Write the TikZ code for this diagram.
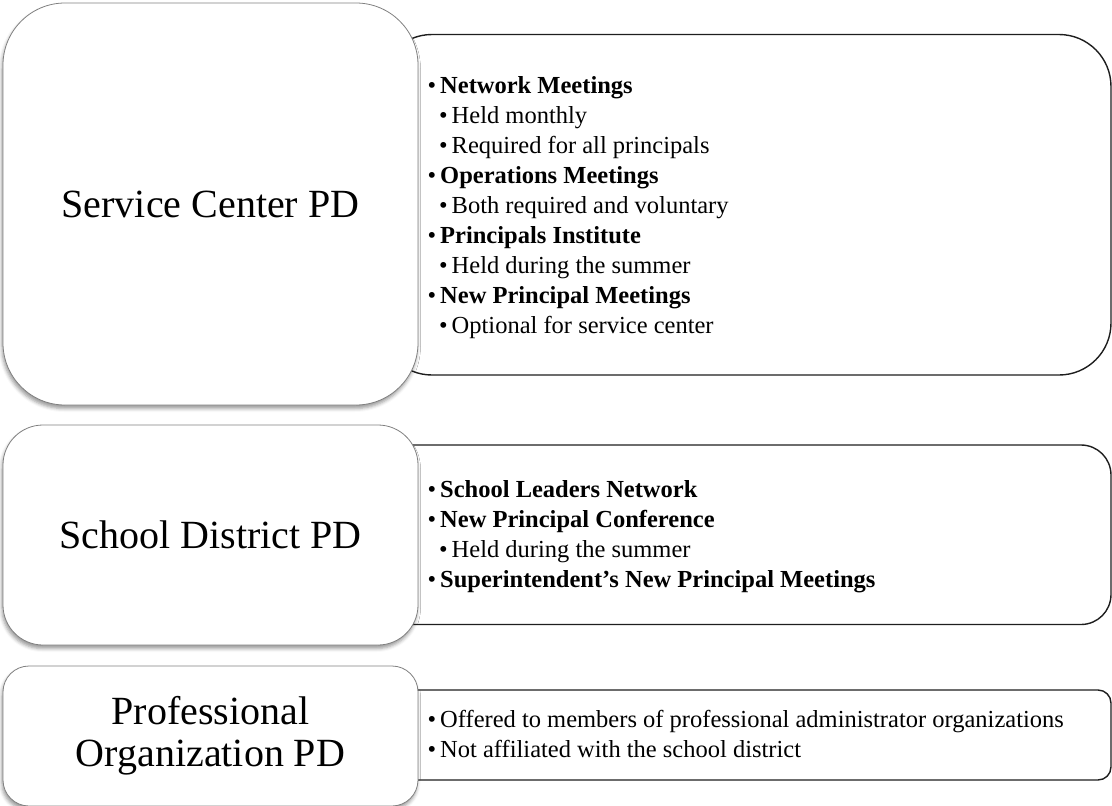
\documentclass[tikz,border=0pt]{standalone}
\usepackage{fontspec}
\setmainfont{Liberation Serif}
\usetikzlibrary{shadows.blur}
\definecolor{tierline}{RGB}{128,128,128}
\definecolor{listline}{RGB}{30,30,30}

% bullets for the two list levels
\newcommand{\itemone}[1]{\makebox[12.5pt][l]{\textbullet}#1}
\newcommand{\itemtwo}[1]{\hspace*{11.5pt}\makebox[12.5pt][l]{\textbullet}#1}

\begin{document}
\begin{tikzpicture}[x=1pt, y=-1pt]
  \tikzstyle{listbox} = [draw=listline, line width=1.4pt, fill=white, minimum width=731pt]
  \tikzstyle{tierbox} = [draw=tierline, line width=0.8pt, fill=white, minimum width=415pt,
      align=center, font=\fontsize{40}{42}\selectfont,
      blur shadow={shadow xshift=-1pt, shadow yshift=-3.5pt, shadow blur radius=3.5pt, shadow opacity=40}]
  \tikzstyle{listtext} = [anchor=north west, align=left, inner sep=0pt, font=\fontsize{24.5}{30}\selectfont]
  \useasboundingbox (0,0) rectangle (1112,806);

  % lists go first, the tier boxes cover their left ends
  \node[listbox, rounded corners=52pt, minimum height=340.5pt] (scList) at (745.5,204.75) {};
  \node[listbox, rounded corners=30pt, minimum height=179.5pt] (sdList) at (745.5,534.75) {};
  \node[listbox, rounded corners=13pt, minimum height=90pt] (poList) at (745.5,735) {};

  \node[tierbox, rounded corners=62pt, minimum height=402pt] (scTier) at (210.5,204) {Service Center PD};
  \node[tierbox, rounded corners=40pt, minimum height=220pt] (sdTier) at (210.5,535) {School District PD};
  \node[tierbox, rounded corners=26pt, minimum height=140pt] (poTier) at (210.5,736) {Professional\\Organization PD};

  \node[listtext] (scItems) at (427.5,76.4) {%
    \itemone{\textbf{Network Meetings}}\\
    \itemtwo{Held monthly}\\
    \itemtwo{Required for all principals}\\
    \itemone{\textbf{Operations Meetings}}\\
    \itemtwo{Both required and voluntary}\\
    \itemone{\textbf{Principals Institute}}\\
    \itemtwo{Held during the summer}\\
    \itemone{\textbf{New Principal Meetings}}\\
    \itemtwo{Optional for service center}};
  \node[listtext] (sdItems) at (427.5,480.4) {%
    \itemone{\textbf{School Leaders Network}}\\
    \itemone{\textbf{New Principal Conference}}\\
    \itemtwo{Held during the summer}\\
    \itemone{\textbf{Superintendent's New Principal Meetings}}};
  \node[listtext] (poItems) at (427.5,710) {%
    \itemone{Offered to members of professional administrator organizations}\\
    \itemone{Not affiliated with the school district}};
\end{tikzpicture}
\end{document}
